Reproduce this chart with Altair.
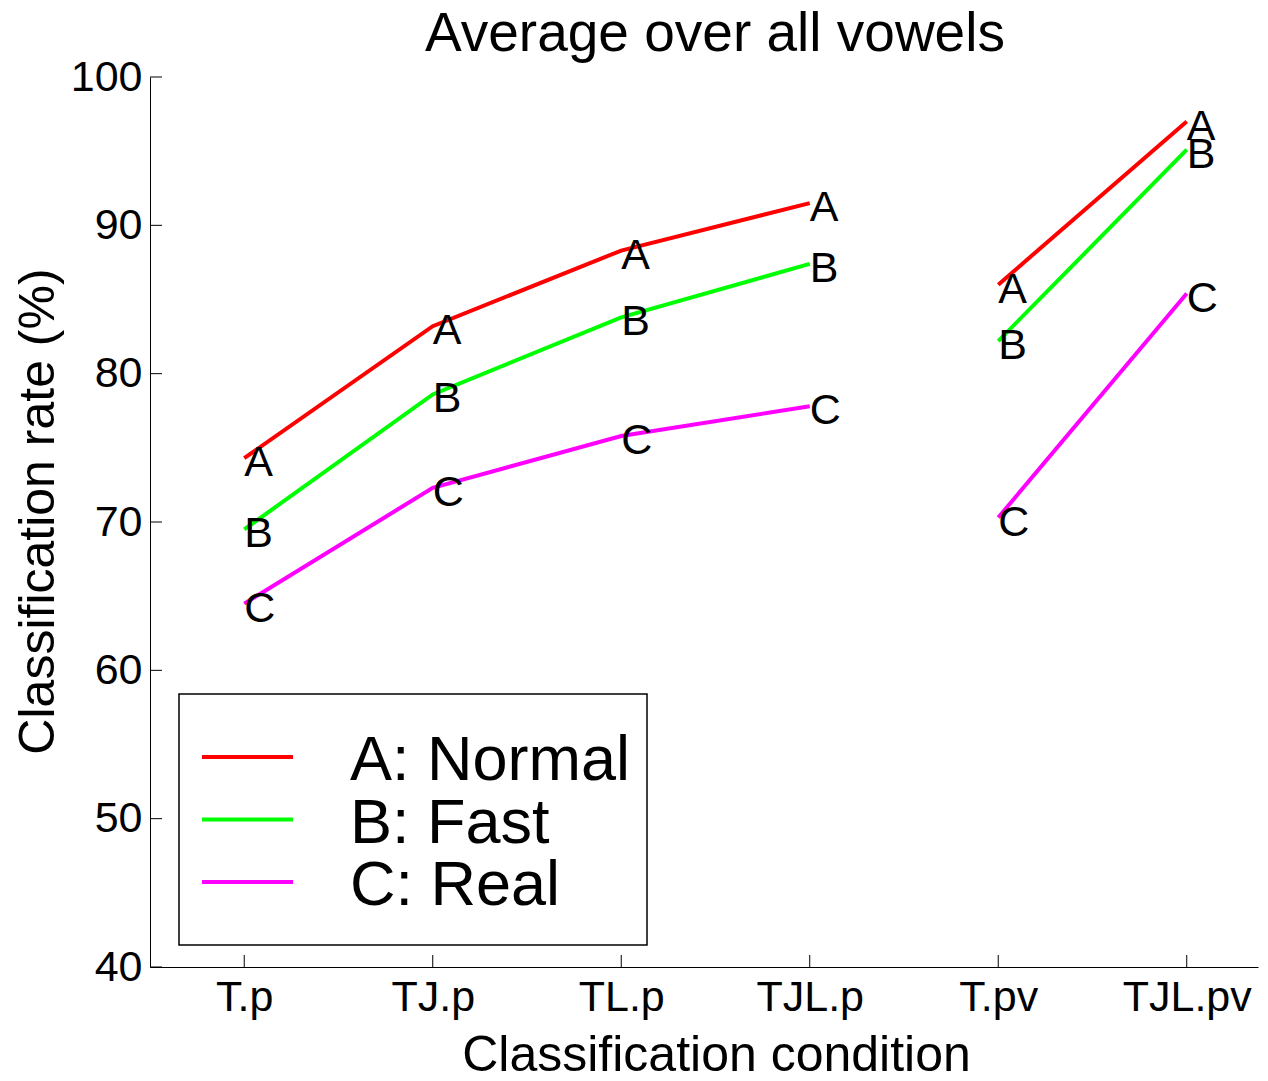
import json
import altair as alt
import pandas as pd

# ---------------- data ----------------
conds = ["T.p", "TJ.p", "TL.p", "TJL.p", "T.pv", "TJL.pv"]
cond_pos = [1, 2, 3, 4, 5, 6]
segment = ["s1", "s1", "s1", "s1", "s2", "s2"]
series_names = ["A: Normal", "B: Fast", "C: Real"]
series_letters = ["A", "B", "C"]
series_colors = ["#ff0000", "#00ff00", "#ff00ff"]
normal = [74.3, 83.2, 88.3, 91.5, 86.0, 97.0]
fast = [69.5, 78.6, 83.8, 87.4, 82.2, 95.1]
real = [64.5, 72.3, 75.8, 77.8, 70.3, 85.4]
y_ticks = [40, 50, 60, 70, 80, 90, 100]

rows = []
for name, letter, vals in zip(series_names, series_letters, [normal, fast, real]):
    for p, seg, v in zip(cond_pos, segment, vals):
        rows.append({"series": name, "letter": letter, "pos": p,
                     "seg": name + seg, "rate": v})
df = pd.DataFrame(rows)
xt_df = pd.DataFrame({"pos": cond_pos})
yt_df = pd.DataFrame({"rate": y_ticks})

FONT = "Liberation Sans"
W, H = 1108, 890

xs = alt.Scale(domain=[0.5, 6.378], nice=False, zero=False)
ys = alt.Scale(domain=[40, 100], nice=False, zero=False)

xaxis = alt.Axis(values=cond_pos, labelExpr=f"{json.dumps(conds)}[datum.value - 1]",
                 title="Classification condition", grid=False, ticks=False, tickSize=0,
                 labelFontSize=43, labelPadding=9, labelFont=FONT, labelColor="black",
                 labelFlush=False, labelOverlap=False,
                 titleFont=FONT, titleFontSize=50, titleFontWeight="normal", titleColor="black",
                 titleX=566, titleY=103, titleBaseline="alphabetic", titleAlign="center",
                 domainColor="black", domainWidth=1)
yaxis = alt.Axis(values=y_ticks, title="Classification rate (%)", grid=False, ticks=False,
                 tickSize=0, labelFontSize=43, labelPadding=8, labelFont=FONT,
                 labelColor="black", labelFlush=False, labelOverlap=False,
                 titleFont=FONT, titleFontSize=50, titleFontWeight="normal", titleColor="black",
                 titleX=-97, titleY=434, titleBaseline="alphabetic", titleAlign="center",
                 domainColor="black", domainWidth=1)


def X():
    return alt.X("pos:Q", scale=xs, axis=xaxis)


def Y():
    return alt.Y("rate:Q", scale=ys, axis=yaxis)


color = alt.Color("series:N", scale=alt.Scale(domain=series_names, range=series_colors),
                  legend=None)

lines = alt.Chart(df).mark_line(strokeWidth=4, strokeCap="butt").encode(
    x=X(), y=Y(), color=color, detail="seg:N", order="pos:Q")

letters = alt.Chart(df).mark_text(align="left", baseline="alphabetic", dy=18,
                                  fontSize=43, font=FONT, color="black").encode(
    x=X(), y=Y(), text="letter:N")

xticks = alt.Chart(xt_df).mark_rule(color="black", strokeWidth=1).encode(
    x=X(), y=alt.value(H), y2=alt.value(H - 12))
yticks = alt.Chart(yt_df).mark_rule(color="black", strokeWidth=1).encode(
    y=Y(), x=alt.value(0), x2=alt.value(12))

# manual legend
one = pd.DataFrame({"k": [0]})
legend_layers = [
    alt.Chart(one).mark_rect(fill="white", stroke="black", strokeWidth=1.5).encode(
        x=alt.value(29), x2=alt.value(497), y=alt.value(617), y2=alt.value(868))
]
for i, (name, col) in enumerate(zip(series_names, series_colors)):
    ly = 680 + i * 62.5
    legend_layers.append(
        alt.Chart(one).mark_rule(color=col, strokeWidth=4).encode(
            x=alt.value(52), x2=alt.value(143), y=alt.value(ly)))
    legend_layers.append(
        alt.Chart(one).mark_text(align="left", baseline="alphabetic", fontSize=63,
                                 font=FONT, color="black", text=name).encode(
            x=alt.value(200), y=alt.value(ly + 23)))

chart = alt.layer(xticks, yticks, lines, letters, *legend_layers).properties(
    width=W, height=H,
    title=alt.TitleParams("Average over all vowels", fontSize=55, fontWeight="normal",
                          font=FONT, color="black", anchor="middle", offset=-7, dx=11),
    autosize=alt.AutoSizeParams(type="none"),
    padding={"left": 142, "top": 69, "right": 2, "bottom": 105},
).configure_view(stroke=None)

chart.save("out.html", embed_options={"renderer": "svg", "actions": False})
